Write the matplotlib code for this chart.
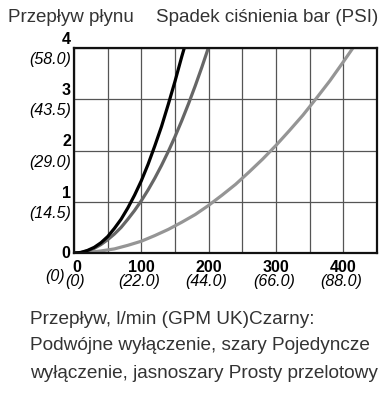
"""Pressure drop vs flow chart for three valve variants."""

import matplotlib

matplotlib.use("Agg")
import matplotlib.pyplot as plt
import matplotlib.transforms as mtransforms

plt.rcParams["font.family"] = ["Liberation Sans", "DejaVu Sans"]

# flow in l/min, pressure drop in bar
black_flow = [0, 10, 20, 30, 40, 50, 60, 70, 80, 90, 100, 110, 120, 130, 140,
              150, 160, 166]
black_bar = [0, 0.01, 0.05, 0.11, 0.20, 0.32, 0.48, 0.66, 0.88, 1.13, 1.41,
             1.73, 2.09, 2.47, 2.90, 3.35, 3.83, 4.1]

gray_flow = [0, 10, 20, 30, 40, 50, 60, 70, 80, 90, 100, 110, 120, 130, 140,
             150, 160, 170, 180, 190, 200]
gray_bar = [0, 0.01, 0.04, 0.09, 0.165, 0.26, 0.37, 0.50, 0.66, 0.83, 1.02,
            1.23, 1.46, 1.71, 1.98, 2.27, 2.58, 2.91, 3.26, 3.63, 4.02]

light_flow = [0, 20, 40, 60, 80, 100, 120, 140, 160, 180, 200, 220, 240, 260,
              280, 300, 320, 340, 360, 380, 400, 420]
light_bar = [0, 0.01, 0.04, 0.08, 0.15, 0.23, 0.34, 0.46, 0.60, 0.75, 0.93,
             1.13, 1.34, 1.58, 1.83, 2.10, 2.39, 2.69, 3.02, 3.36, 3.73, 4.11]

x_ticks = [0, 100, 200, 300, 400]
x_sub = ["(0)", "(22.0)", "(44.0)", "(66.0)", "(88.0)"]
y_ticks = [0, 1, 2, 3, 4]
y_sub = ["(0)", "(14.5)", "(29.0)", "(43.5)", "(58.0)"]

W, H = 386, 396
fig = plt.figure(figsize=(W / 100, H / 100), dpi=100)
ax = fig.add_axes([74 / W, 1 - 253 / H, 303 / W, 205 / H])

ax.plot(light_flow, light_bar, color="#959595", lw=2.3)
ax.plot(gray_flow, gray_bar, color="#666666", lw=2.3)
ax.plot(black_flow, black_bar, color="#000000", lw=2.3)

ax.set_xlim(0, 450)
ax.set_ylim(0, 4)
ax.set_xticks(range(0, 451, 50))
ax.set_yticks(y_ticks)
ax.grid(True, color="#555555", lw=0.9)
ax.set_axisbelow(True)
ax.tick_params(length=0, labelbottom=False, labelleft=False)
for side in ax.spines.values():
    side.set_linewidth(1.6)
    side.set_color("#111111")

ytr = ax.get_yaxis_transform()
xtr = ax.get_xaxis_transform()


def off(base, dx, dy):
    # shift a transform by dx, dy pixels
    return base + mtransforms.ScaledTranslation(dx / 100, dy / 100, fig.dpi_scale_trans)


for i, (v, s) in enumerate(zip(y_ticks, y_sub)):
    if i == 0:
        ax.text(0, v, str(v), transform=off(ytr, -4, 0), ha="right", va="center",
                fontsize=11.5, fontweight="bold")
        ax.text(0, v, s, transform=off(ytr, -9, -16), ha="right", va="top",
                fontsize=11.5, style="italic")
    else:
        ax.text(0, v, str(v), transform=off(ytr, -3, 1), ha="right", va="bottom",
                fontsize=11.5, fontweight="bold")
        ax.text(0, v, s, transform=off(ytr, -3, -4), ha="right", va="top",
                fontsize=11.5, style="italic")

for v, s in zip(x_ticks, x_sub):
    dx = 3 if v == 0 else 0
    ax.text(v, 0, str(v), transform=off(xtr, dx, -7), ha="center", va="top",
            fontsize=11.5, fontweight="bold")
    ax.text(v, 0, s, transform=off(xtr, dx - 2, -21), ha="center", va="top",
            fontsize=11.5, style="italic")

fig.text(8 / W, 1 - 17 / H, "Przepływ płynu", ha="left", va="center",
         fontsize=13.5, color="#333333")
fig.text(378 / W, 1 - 17 / H, "Spadek ciśnienia bar (PSI)", ha="right", va="center",
         fontsize=13.5, color="#333333")

notes = [
    "Przepływ, l/min (GPM UK)Czarny:",
    "Podwójne wyłączenie, szary Pojedyncze",
    "wyłączenie, jasnoszary Prosty przelotowy",
]
for k, line in enumerate(notes):
    fig.text(30 / W, 1 - (319 + 27 * k) / H, line, ha="left", va="center",
             fontsize=13.7, color="#333333")

fig.savefig("out.png", dpi=100)
